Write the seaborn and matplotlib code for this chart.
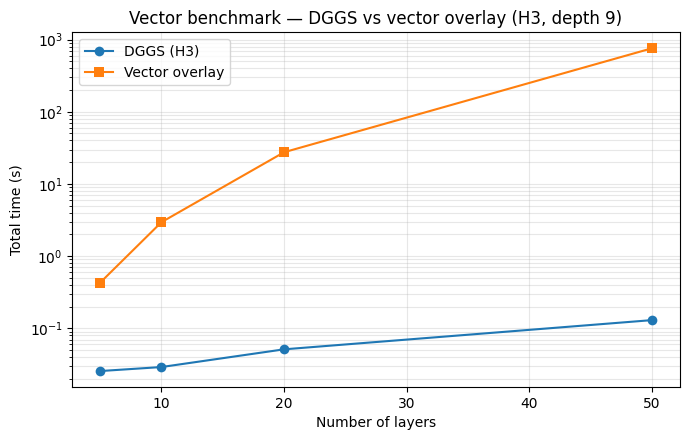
import matplotlib
matplotlib.use("Agg")
import matplotlib.pyplot as plt
import seaborn as sns
import pandas as pd

layers = [5, 10, 20, 50]
dggs_time = [0.0256, 0.0291, 0.0512, 0.130]
vector_time = [0.428, 2.95, 27.5, 758]
series_names = ["DGGS (H3)", "Vector overlay"]

df = pd.DataFrame({
    "layers": layers * 2,
    "time": dggs_time + vector_time,
    "method": [series_names[0]] * len(layers) + [series_names[1]] * len(layers),
})

fig, ax = plt.subplots(figsize=(6.9, 4.4), dpi=100)
sns.lineplot(data=df, x="layers", y="time", hue="method", style="method",
             markers={series_names[0]: "o", series_names[1]: "s"}, dashes=False,
             palette=["#1f77b4", "#ff7f0e"], markersize=7, markeredgewidth=0, ax=ax)
ax.set_yscale("log")
ax.grid(True, which="both", alpha=0.3)
ax.set_xlabel("Number of layers")
ax.set_ylabel("Total time (s)")
ax.set_title("Vector benchmark — DGGS vs vector overlay (H3, depth 9)")
ax.legend(title=None, loc="upper left")
fig.subplots_adjust(left=0.105, right=0.985, top=0.927, bottom=0.12)
fig.savefig("out.png", dpi=100)
